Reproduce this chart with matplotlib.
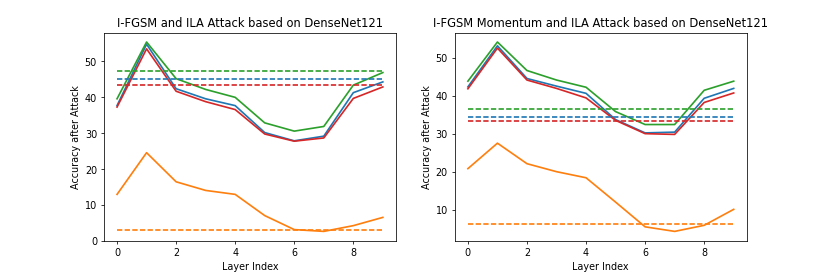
import matplotlib.pyplot as plt
import numpy as np

# ============================================================
# Data
# ============================================================
layers = np.arange(10)

# I-FGSM + ILA, DenseNet121
ifgsm_blue   = [37.6, 54.7, 42.3, 39.5, 37.6, 30.1, 27.8, 29.1, 41.2, 44.2]
ifgsm_orange = [12.9, 24.5, 16.4, 14.0, 12.9, 7.0, 3.1, 2.6, 4.2, 6.5]
ifgsm_green  = [39.5, 55.3, 45.1, 42.1, 39.9, 32.8, 30.5, 31.8, 43.3, 46.8]
ifgsm_red    = [37.2, 53.4, 41.6, 38.7, 36.5, 29.7, 27.7, 28.6, 39.6, 42.8]
ifgsm_base   = [45.0, 2.95, 47.3, 43.3]   # blue, orange, green, red

# I-FGSM Momentum + ILA, DenseNet121
mom_blue   = [42.3, 53.1, 44.5, 42.5, 40.6, 33.7, 30.2, 30.4, 39.3, 41.9]
mom_orange = [20.8, 27.5, 22.1, 20.0, 18.4, 12.0, 5.5, 4.3, 5.9, 10.1]
mom_green  = [43.8, 54.1, 46.6, 44.1, 42.2, 35.8, 32.4, 32.4, 41.4, 43.8]
mom_red    = [41.8, 52.5, 44.1, 41.9, 39.4, 33.5, 30.0, 29.8, 38.2, 40.7]
mom_base   = [34.4, 6.3, 36.5, 33.4]

colors = ["C0", "C1", "C2", "C3"]
LINE_WIDTH = 1.75
DASHES = (3.7 * 1.5 / LINE_WIDTH, 1.6 * 1.5 / LINE_WIDTH)

panels = [
    ("I-FGSM and ILA Attack based on DenseNet121",
     [ifgsm_blue, ifgsm_orange, ifgsm_green, ifgsm_red], ifgsm_base),
    ("I-FGSM Momentum and ILA Attack based on DenseNet121",
     [mom_blue, mom_orange, mom_green, mom_red], mom_base),
]

fig, axes = plt.subplots(1, 2, figsize=(12, 4), dpi=830 / 12)
fig.subplots_adjust(left=0.125, right=0.9, bottom=0.127, top=0.88, wspace=0.2)

for ax, (title, curves, base) in zip(axes, panels):
    for ys, c in zip(curves, colors):
        ax.plot(layers, ys, color=c, linewidth=LINE_WIDTH)
    for b, c in zip(base, colors):
        ax.plot(layers, [b] * len(layers), "--", color=c,
                linewidth=LINE_WIDTH, dashes=DASHES)
    ax.set_title(title)
    ax.set_xlabel("Layer Index")
    ax.set_ylabel("Accuracy after Attack")

fig.savefig("out.png")
